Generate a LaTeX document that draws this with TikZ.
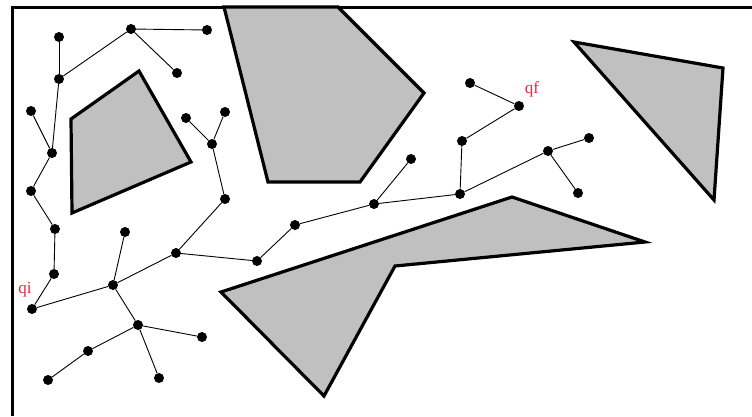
\documentclass[tikz,border=0pt]{standalone}
\usepackage{fontspec}
\setmainfont{Liberation Serif}
\begin{document}
\begin{tikzpicture}[x=1pt,y=-1pt,
  dot/.style={circle,fill=black,inner sep=0pt,minimum size=10pt},
  edge/.style={draw=black,line width=0.9pt},
  obstacle/.style={draw=black,line width=3.2pt,fill=obsgray,line join=miter},
  lbl/.style={text=lblred,font=\fontsize{17}{17}\selectfont,inner sep=0pt}]
\definecolor{obsgray}{RGB}{192,192,192}
\definecolor{lblred}{RGB}{240,40,60}
\useasboundingbox (0,0) rectangle (752,416);
\fill[white] (0,0) rectangle (752,416);
% frame
\draw[line width=3pt] (12,416) -- (12,7) -- (752,7);
% obstacles
\draw[obstacle] (71,119) -- (139,71) -- (191,162) -- (72,213) -- cycle;
\draw[obstacle] (224,7) -- (338,7) -- (424,93) -- (360,182) -- (268,182) -- cycle;
\draw[obstacle] (574,42) -- (723,68) -- (714,200) -- cycle;
\draw[obstacle] (221,292) -- (512,197) -- (645,242) -- (395,266) -- (324,396) -- cycle;
% nodes
\node[dot] (a1) at (59,37) {};
\node[dot] (a2) at (131,29) {};
\node[dot] (a3) at (207,30) {};
\node[dot] (a4) at (177,73) {};
\node[dot] (a5) at (59,79) {};
\node[dot] (a6) at (31,111) {};
\node[dot] (a7) at (52,153) {};
\node[dot] (a8) at (31,191) {};
\node[dot] (a9) at (186,118) {};
\node[dot] (a10) at (225,112) {};
\node[dot] (a11) at (212,144) {};
\node[dot] (a12) at (225,199) {};
\node[dot] (b1) at (55,229) {};
\node[dot] (b2) at (125,232) {};
\node[dot] (b3) at (176,253) {};
\node[dot] (b4) at (54,274) {};
\node[dot] (b5) at (113,285) {};
\node[dot] (qi) at (32,309) {};
\node[dot] (b6) at (138,325) {};
\node[dot] (b7) at (202,337) {};
\node[dot] (b8) at (88,351) {};
\node[dot] (b9) at (48,380) {};
\node[dot] (b10) at (159,378) {};
\node[dot] (e2) at (295,225) {};
\node[dot] (e3) at (257,261) {};
\node[dot] (c1) at (470,83) {};
\node[dot] (c2) at (462,141) {};
\node[dot] (c3) at (411,159) {};
\node[dot] (c4) at (460,194) {};
\node[dot] (c5) at (374,204) {};
\node[dot] (qf) at (519,106) {};
\node[dot] (d1) at (548,151) {};
\node[dot] (d2) at (589,138) {};
\node[dot] (d3) at (578,193) {};
% labels
\node[lbl] (lqi) at (25,290) {qi};
\node[lbl] (lqf) at (532,89) {qf};
% edges
\draw[edge] (a1) -- (a5);
\draw[edge] (a5) -- (a2);
\draw[edge] (a2) -- (a3);
\draw[edge] (a2) -- (a4);
\draw[edge] (a5) -- (a7);
\draw[edge] (a6) -- (a7);
\draw[edge] (a7) -- (a8);
\draw[edge] (a8) -- (b1);
\draw[edge] (b1) -- (b4);
\draw[edge] (b4) -- (qi);
\draw[edge] (qi) -- (b5);
\draw[edge] (b5) -- (b2);
\draw[edge] (b5) -- (b3);
\draw[edge] (b5) -- (b6);
\draw[edge] (b6) -- (b7);
\draw[edge] (b6) -- (b8);
\draw[edge] (b8) -- (b9);
\draw[edge] (b6) -- (b10);
\draw[edge] (b3) -- (a12);
\draw[edge] (a12) -- (a11);
\draw[edge] (a11) -- (a9);
\draw[edge] (a11) -- (a10);
\draw[edge] (b3) -- (e3);
\draw[edge] (e3) -- (e2);
\draw[edge] (e2) -- (c5);
\draw[edge] (c5) -- (c3);
\draw[edge] (c5) -- (c4);
\draw[edge] (c4) -- (c2);
\draw[edge] (c2) -- (qf);
\draw[edge] (qf) -- (c1);
\draw[edge] (c4) -- (d1);
\draw[edge] (d1) -- (d2);
\draw[edge] (d1) -- (d3);
\end{tikzpicture}
\end{document}
